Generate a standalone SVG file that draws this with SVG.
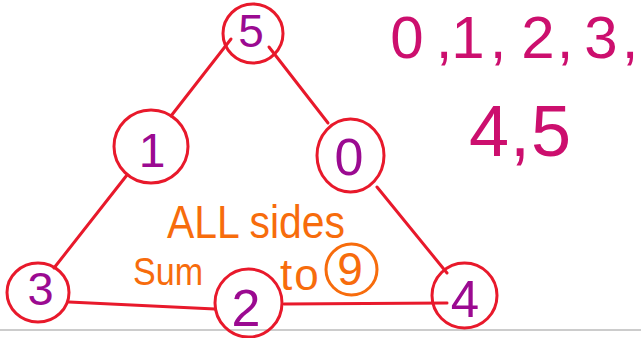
<svg xmlns="http://www.w3.org/2000/svg" width="641" height="338" viewBox="0 0 641 338">
<style>
.node{fill:none;stroke:#e8192b;stroke-width:3}
.edge{stroke:#e8192b;stroke-width:3;stroke-linecap:round;fill:none}
.num{font-family:"Liberation Sans",Arial,sans-serif;fill:#9b0a91;text-anchor:middle}
.list{font-family:"Liberation Sans",Arial,sans-serif;fill:#cc0f6e;text-anchor:middle}
.note{font-family:"Liberation Sans",Arial,sans-serif;fill:#f76c0c}
</style>
<rect width="641" height="338" fill="#ffffff"/>
<line x1="0" y1="330" x2="641" y2="330" stroke="#cccccc" stroke-width="2"/>
<g id="connectors">
<line class="edge" x1="231" y1="39" x2="171" y2="116"/>
<line class="edge" x1="269" y1="47" x2="328" y2="123"/>
<line class="edge" x1="127" y1="175" x2="54" y2="268"/>
<line class="edge" x1="377" y1="187" x2="447" y2="273"/>
<line class="edge" x1="69" y1="302" x2="215" y2="309"/>
<line class="edge" x1="284" y1="304" x2="447" y2="303"/>
</g>
<g id="node5"><ellipse class="node" cx="253" cy="33.5" rx="30" ry="29.5"/><text class="num" x="251" y="47" font-size="46">5</text></g>
<g id="node1"><ellipse class="node" cx="151" cy="146.5" rx="37" ry="36.5"/><text class="num" x="152" y="167" font-size="48">1</text></g>
<g id="node0"><ellipse class="node" cx="350.5" cy="155.5" rx="33.5" ry="36.5"/><text class="num" x="349" y="175" font-size="52">0</text></g>
<g id="node3"><ellipse class="node" cx="38" cy="292.5" rx="31" ry="29.5"/><text class="num" x="40.5" y="305" font-size="47">3</text></g>
<g id="node2"><ellipse class="node" cx="248.5" cy="303" rx="33.5" ry="34"/><text class="num" x="246" y="326" font-size="52">2</text></g>
<g id="node4"><ellipse class="node" cx="464.5" cy="295.5" rx="32.5" ry="32.5"/><text class="num" x="465" y="317" font-size="51">4</text></g>
<g id="note">
<text class="note" x="167" y="238" font-size="46" textLength="178" lengthAdjust="spacingAndGlyphs">ALL sides</text>
<text class="note" x="133" y="285" font-size="39" textLength="70" lengthAdjust="spacingAndGlyphs">Sum</text>
<text class="note" x="280" y="290" font-size="44" letter-spacing="2">to</text>
<circle cx="351.5" cy="269.5" r="25.5" fill="none" stroke="#f76c0c" stroke-width="3"/>
<text class="note" x="350" y="285" font-size="46" text-anchor="middle">9</text>
</g>
<g id="list">
<text class="list" x="407 444 468 498 538 565 601 630" y="58" font-size="60">0,1,2,3,</text>
<text class="list" x="489 520 551" y="156" font-size="72">4,5</text>
</g>
</svg>
